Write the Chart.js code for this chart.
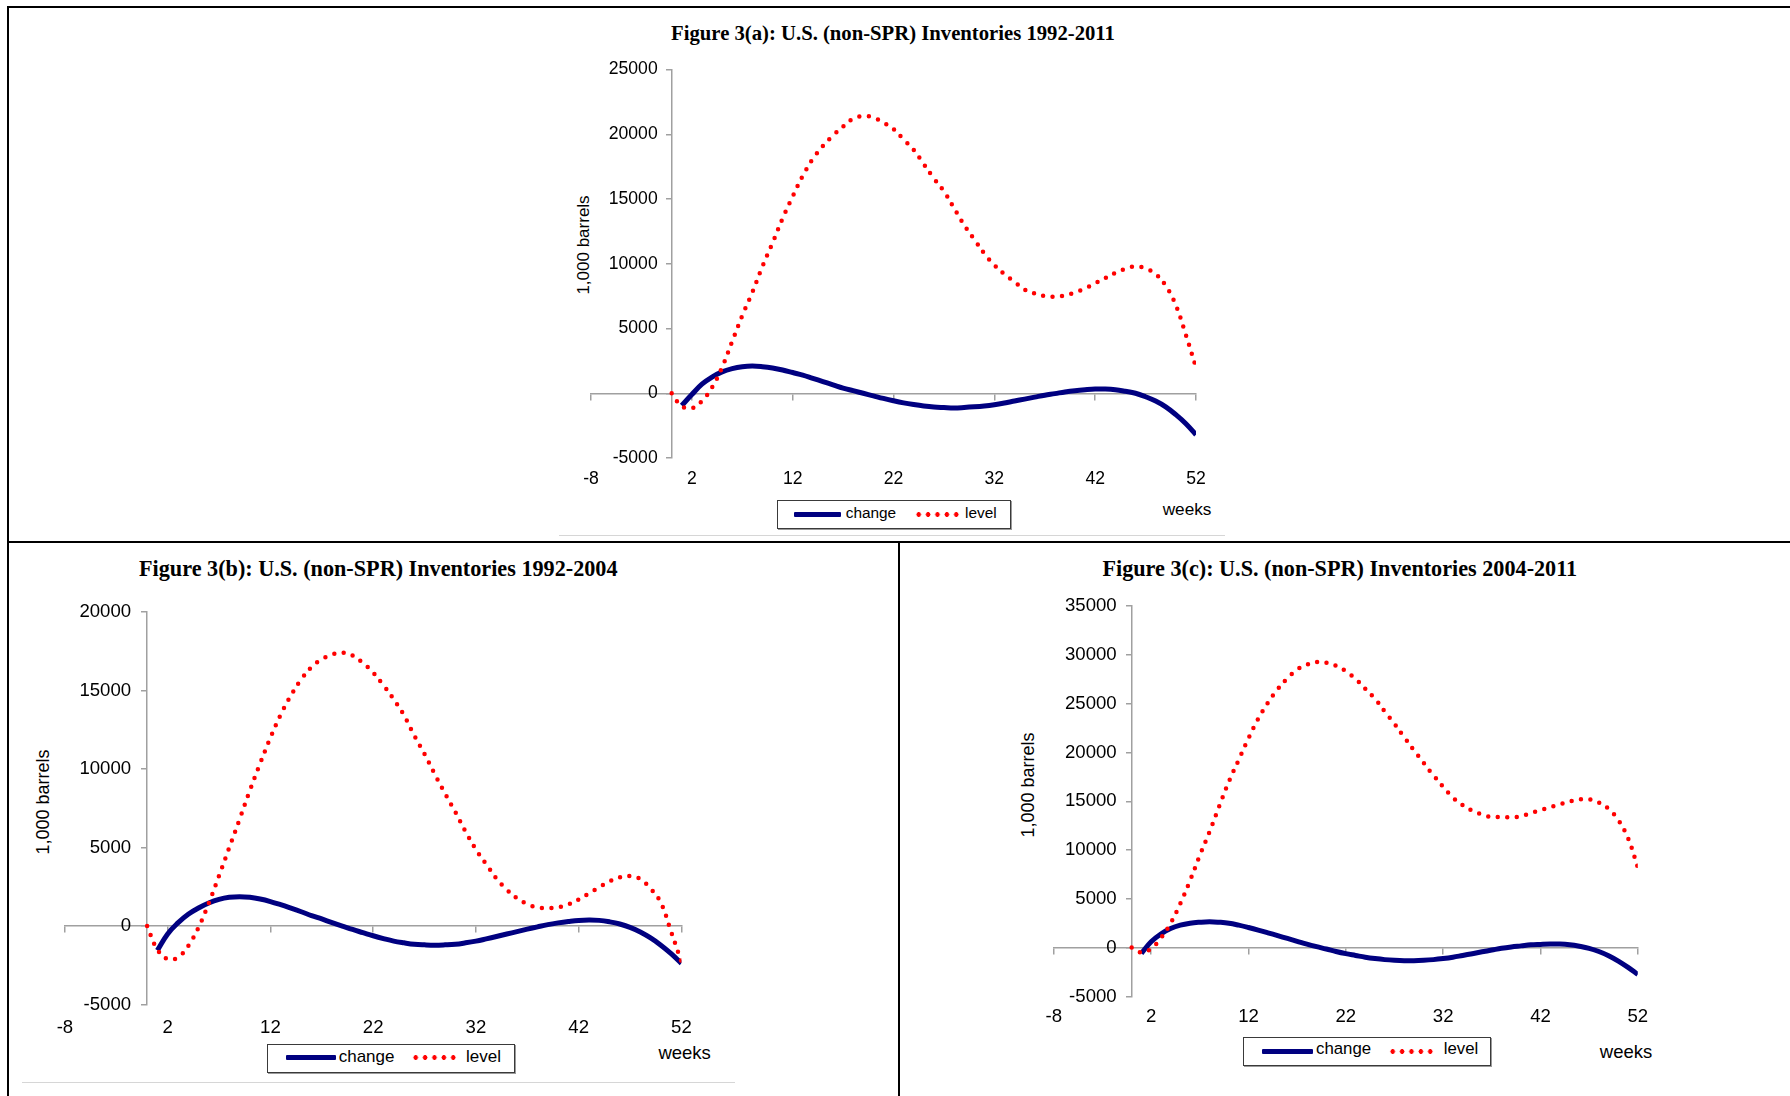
<!DOCTYPE html>
<html>
<head>
<meta charset="utf-8">
<script src="https://cdn.jsdelivr.net/npm/chart.js@4.4.1/dist/chart.umd.min.js"></script>
<style>
html,body{margin:0;padding:0;background:#fff;}
#page{position:relative;width:1790px;height:1096px;overflow:hidden;background:#fff;font-family:"Liberation Sans",Arial,sans-serif;color:#000;}
.rule{position:absolute;background:#000;}
.gray{position:absolute;background:#d6d6d6;height:1px;}
.title{position:absolute;font-family:"Liberation Serif","Times New Roman",serif;font-weight:bold;white-space:nowrap;line-height:1;transform:translateX(-50%);}
.ytitle{position:absolute;white-space:nowrap;line-height:1;transform:translate(-50%,-50%) rotate(-90deg);}
.txt{position:absolute;white-space:nowrap;line-height:1;}
.lbox{position:absolute;border:1px solid #3a3a3a;box-shadow:1px 1px 0 #9a9a9a;background:#fff;}
.navy{position:absolute;background:#000080;height:5px;border-radius:1px;}
.dots{position:absolute;height:5px;background-image:radial-gradient(circle,#ff0000 2.1px,rgba(255,0,0,0) 2.6px);background-size:9.4px 5px;background-repeat:repeat-x;}
canvas{position:absolute;}
</style>
</head>
<body>
<div id="page">
  <div class="rule" style="left:7px;top:6px;width:1783px;height:2px;"></div>
  <div class="rule" style="left:7px;top:6px;width:2px;height:1090px;"></div>
  <div class="rule" style="left:7px;top:541px;width:1783px;height:2px;"></div>
  <div class="rule" style="left:898px;top:541px;width:2px;height:555px;"></div>

  <div class="gray" style="left:559px;top:535px;width:666px;"></div>
  <div class="gray" style="left:22px;top:1082px;width:713px;"></div>

  <div class="title" style="left:893px;top:23.2px;font-size:20.7px;">Figure 3(a): U.S. (non-SPR) Inventories 1992-2011</div>
  <div class="title" style="left:378.3px;top:558px;font-size:22.2px;">Figure 3(b): U.S. (non-SPR) Inventories 1992-2004</div>
  <div class="title" style="left:1339.8px;top:558px;font-size:22.2px;">Figure 3(c): U.S. (non-SPR) Inventories 2004-2011</div>

  <div class="ytitle" style="left:583px;top:245.3px;font-size:17px;">1,000 barrels</div>
  <div class="ytitle" style="left:42.5px;top:801.5px;font-size:18px;">1,000 barrels</div>
  <div class="ytitle" style="left:1028px;top:784.5px;font-size:18px;">1,000 barrels</div>

  <div class="txt" style="left:1162.7px;top:501.1px;font-size:17.2px;">weeks</div>
  <div class="txt" style="left:658.4px;top:1043.8px;font-size:18.5px;">weeks</div>
  <div class="txt" style="left:1599.8px;top:1042.6px;font-size:18.5px;">weeks</div>

  <canvas id="chartA" width="720" height="440" style="left:530px;top:50px;width:720px;height:440px;"></canvas>
  <canvas id="chartB" width="710" height="450" style="left:15px;top:590px;width:710px;height:450px;"></canvas>
  <canvas id="chartC" width="700" height="445" style="left:1000px;top:585px;width:700px;height:445px;"></canvas>

  <!-- legend a -->
  <div class="lbox" style="left:776.5px;top:500px;width:232px;height:27px;"></div>
  <div class="navy" style="left:794px;top:511.5px;width:47px;"></div>
  <div class="txt" style="left:845.7px;top:504.5px;font-size:15.4px;">change</div>
  <div class="dots" style="left:914px;top:511.5px;width:47px;"></div>
  <div class="txt" style="left:965px;top:504.5px;font-size:15.4px;">level</div>

  <!-- legend b -->
  <div class="lbox" style="left:267px;top:1043.5px;width:246px;height:27px;"></div>
  <div class="navy" style="left:286px;top:1055.2px;width:50px;"></div>
  <div class="txt" style="left:338.7px;top:1047.6px;font-size:17px;">change</div>
  <div class="dots" style="left:411px;top:1055.2px;width:47px;"></div>
  <div class="txt" style="left:466px;top:1047.6px;font-size:17px;">level</div>

  <!-- legend c -->
  <div class="lbox" style="left:1243.4px;top:1036.5px;width:246px;height:27.5px;"></div>
  <div class="navy" style="left:1262px;top:1048.5px;width:50.6px;"></div>
  <div class="txt" style="left:1316px;top:1041.3px;font-size:16.8px;">change</div>
  <div class="dots" style="left:1388px;top:1048.5px;width:47px;"></div>
  <div class="txt" style="left:1443.7px;top:1041.3px;font-size:16.8px;">level</div>
</div>

<script>
// ---------- DATA ----------
const xTickValues = [-8, 2, 12, 22, 32, 42, 52];

const levelWeeks = [0,1,2,3,4,5,6,7,8,9,10,11,12,13,14,15,16,17,18,19,20,21,22,23,24,25,26,27,28,29,30,31,32,33,34,35,36,37,38,39,40,41,42,43,44,45,46,47,48,49,50,51,52];
const changeWeeks = [1,2,3,4,5,6,7,8,9,10,11,12,13,14,15,16,17,18,19,20,21,22,23,24,25,26,27,28,29,30,31,32,33,34,35,36,37,38,39,40,41,42,43,44,45,46,47,48,49,50,51,52];

// Figure 3(a): 1992-2011
const levelA = [0,-1000,-1150,-600,450,2000,4000,6000,7800,9800,11600,13500,15200,16800,18100,19100,19900,20600,21200,21400,21300,20900,20400,19600,18800,17700,16600,15600,14300,13000,11900,10800,9900,9200,8600,8000,7700,7500,7450,7550,7800,8100,8500,8900,9300,9600,9800,9650,9200,8300,6800,4500,2000];
const changeA = [-950,-100,700,1250,1650,1900,2050,2100,2050,1950,1800,1600,1400,1150,900,650,400,200,0,-200,-400,-580,-740,-870,-980,-1060,-1100,-1130,-1100,-1050,-980,-880,-750,-600,-450,-300,-150,-30,100,200,270,320,320,270,150,0,-270,-600,-1050,-1650,-2350,-3200];

// Figure 3(b): 1992-2004
const levelB = [0,-1500,-2100,-2000,-1270,-100,1450,3200,5000,6800,8640,10360,12000,13470,14700,15720,16500,17000,17300,17420,17240,16770,16150,15350,14450,13430,12140,10960,9670,8440,7260,6010,4880,3940,3030,2320,1780,1400,1180,1140,1200,1380,1690,2070,2470,2850,3100,3180,3000,2380,1490,-360,-2270];
const changeB = [-1550,-500,200,750,1150,1470,1700,1830,1870,1830,1720,1560,1360,1140,910,670,450,220,0,-220,-420,-620,-800,-960,-1070,-1160,-1200,-1220,-1200,-1160,-1070,-960,-820,-670,-510,-360,-200,-50,90,200,290,360,380,360,270,130,-90,-380,-760,-1220,-1760,-2380];

// Figure 3(c): 2004-2011
const levelC = [0,-500,-100,980,2500,4520,6880,9450,11870,14500,17050,19250,21460,23450,25100,26500,27600,28500,29000,29280,29200,28900,28340,27550,26540,25500,24200,22950,21570,20230,18930,17660,16500,15380,14620,14040,13640,13390,13390,13350,13460,13790,14080,14400,14690,14980,15200,15200,14870,14220,13070,11220,8220];
const changeC = [-580,600,1400,1950,2300,2500,2600,2650,2600,2500,2300,2060,1800,1520,1230,940,650,360,100,-140,-400,-620,-800,-980,-1120,-1230,-1300,-1340,-1340,-1300,-1230,-1120,-980,-800,-620,-430,-250,-70,70,180,290,330,360,360,290,140,-70,-400,-830,-1380,-2030,-2750];

const seriesLabels = ['change', 'level'];

// ---------- STYLE ----------
const NAVY = '#000080';
const RED = '#ff0000';
const AXIS = '#a0a0a0';
Chart.defaults.font.family = '"Liberation Sans", Arial, sans-serif';
Chart.defaults.color = '#000';

function toXY(xs, ys) { return xs.map((x, i) => ({ x: x, y: ys[i] })); }
function setXTicks(axis) { axis.ticks = xTickValues.map(v => ({ value: v })); }

// y axis sits at x = 0 (chart-area positioned); shift its labels left of the tick marks
function padYLabels(scale) {
  if (scale._padPatched) return;
  const orig = scale._computeLabelItems;
  scale._computeLabelItems = function (ca) {
    const items = orig.call(this, ca);
    const off = this.options.grid.tickLength + this.options.ticks.padding;
    items.forEach(it => {
      const t = it.options.translation;
      it.options.translation = [t[0] - off, t[1]];
    });
    return items;
  };
  scale._padPatched = true;
}

function buildChart(id, o) {
  return new Chart(document.getElementById(id), {
    type: 'line',
    data: {
      datasets: [
        { label: seriesLabels[0], data: toXY(changeWeeks, o.change), xAxisID: 'x', yAxisID: 'y',
          borderColor: NAVY, borderWidth: 5, borderCapStyle: 'butt', pointRadius: 0, tension: 0.4, fill: false, order: 1 },
        { label: seriesLabels[1], data: toXY(levelWeeks, o.level), xAxisID: 'x', yAxisID: 'y',
          borderColor: RED, borderWidth: 4.5, borderDash: [0, 9.5], borderCapStyle: 'round', pointRadius: 0, tension: 0.4, fill: false, order: 0 }
      ]
    },
    options: {
      responsive: false, animation: false, devicePixelRatio: 1,
      layout: { padding: o.padding },
      plugins: { legend: { display: false }, tooltip: { enabled: false }, title: { display: false } },
      scales: {
        x: {
          type: 'linear', axis: 'x', position: 'bottom', min: -8, max: 52,
          afterBuildTicks: setXTicks,
          afterFit: a => { a.height = 30; },
          grid: { display: false, drawTicks: false },
          border: { display: false },
          ticks: { font: { size: o.fontSize }, color: '#000', padding: o.xPad, maxRotation: 0, autoSkip: false, callback: v => String(v) }
        },
        x0: {
          type: 'linear', axis: 'x', position: { y: 0 }, min: -8, max: 52,
          afterBuildTicks: setXTicks,
          grid: { display: true, drawOnChartArea: false, drawTicks: true, tickLength: 6, color: AXIS, lineWidth: 1.5 },
          border: { display: true, color: AXIS, width: 1.5 },
          ticks: { display: false }
        },
        y: {
          type: 'linear', axis: 'y', position: { x: 0 }, min: o.ymin, max: o.ymax,
          afterUpdate: padYLabels,
          grid: { display: true, drawOnChartArea: false, drawTicks: true, tickLength: 5, color: AXIS, lineWidth: 1.5 },
          border: { display: true, color: AXIS, width: 1.5 },
          ticks: { stepSize: 5000, font: { size: o.fontSize }, color: '#000', padding: o.yPad, callback: v => String(v) }
        }
      }
    }
  });
}

buildChart('chartA', { level: levelA, change: changeA, ymin: -5000, ymax: 25000, fontSize: 17.6, xPad: 10.1, yPad: 9,
  padding: { left: 61, right: 54, top: 17, bottom: 2 } });
buildChart('chartB', { level: levelB, change: changeB, ymin: -5000, ymax: 20000, fontSize: 18.6, xPad: 11.9, yPad: 11,
  padding: { left: 49.9, right: 43.6, top: 17.4, bottom: 5.5 } });
buildChart('chartC', { level: levelC, change: changeC, ymin: -5000, ymax: 35000, fontSize: 18.6, xPad: 9.4, yPad: 10,
  padding: { left: 53.8, right: 62.2, top: 18.8, bottom: 3.6 } });
</script>
</body>
</html>
